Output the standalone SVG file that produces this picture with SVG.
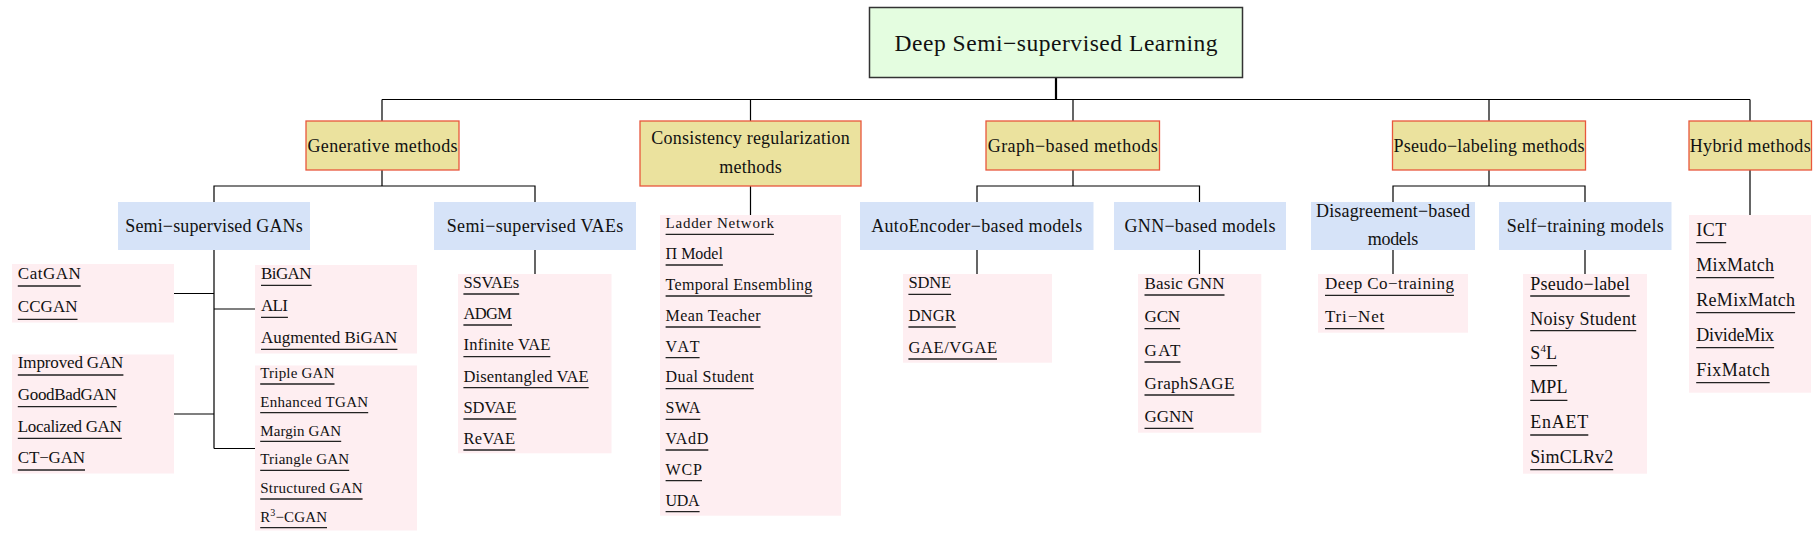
<svg xmlns="http://www.w3.org/2000/svg" width="1816" height="541" viewBox="0 0 1816 541">
<style>
text{font-family:"Liberation Serif","DejaVu Serif",serif;fill:#111}
.root{fill:#e4fde0;stroke:#333;stroke-width:1.5}
.l1{fill:#ebe29e;stroke:#e8573c;stroke-width:1.3}
.l2{fill:#d6e3f8}
.leaf{fill:#feeef1}
.t0{font-size:23.5px;text-anchor:middle}
.t1{font-size:18px;text-anchor:middle}
.ul{fill:none;stroke:#222;stroke-width:1.3}
.con{fill:none;stroke:#000;stroke-width:1.2}
.f15{font-size:15px}.f16{font-size:16px}.f165{font-size:16.5px}.f17{font-size:17px}.f18{font-size:18px}
</style>
<rect width="1816" height="541" fill="#fff"/>
<g id="connectors">
<path class="con" d="M1056 78V99.5" style="stroke-width:2.2"/>
<path class="con" d="M382 99.5H1750M382 99.5V121M750.5 99.5V121M1073 99.5V121M1489 99.5V121M1750 99.5V121"/>
<path class="con" d="M382 170V186M214 202V186H535V202M750.5 186V215M1073 170V186M977 202V186H1199.5V202M1489 170V186M1393 202V186H1585V202M1750 170V215"/>
<path class="con" d="M214 250V448.5M174 293.5H214M214 309H255M174 414H214M214 448.5H255M535 250V274M977 250V274M1199.5 250V274M1393 250V274M1585 250V274"/>
</g>
<g id="root"><rect class="root" x="869.5" y="7.5" width="373" height="70"/><text class="t0" x="1056" y="51" textLength="323">Deep Semi−supervised Learning</text></g>
<g id="generative"><rect class="l1" x="306" y="121" width="153" height="49"/><text class="t1" x="382.5" y="152" textLength="150">Generative methods</text></g>
<g id="consistency"><rect class="l1" x="640" y="121" width="221" height="65"/><text class="t1" x="750.5" y="144" textLength="198.5">Consistency regularization</text><text class="t1" x="750.5" y="173" textLength="62.5">methods</text></g>
<g id="graph"><rect class="l1" x="986" y="121" width="173.5" height="49"/><text class="t1" x="1072.7" y="152" textLength="170">Graph−based methods</text></g>
<g id="pseudo"><rect class="l1" x="1392.5" y="121" width="193" height="49"/><text class="t1" x="1489" y="152" textLength="191">Pseudo−labeling methods</text></g>
<g id="hybrid"><rect class="l1" x="1689" y="121" width="122.5" height="49"/><text class="t1" x="1750.2" y="152" textLength="121">Hybrid methods</text></g>
<g id="ssgans"><rect class="l2" x="118" y="202" width="192" height="48"/><text class="t1" x="214" y="232" textLength="177.5">Semi−supervised GANs</text></g>
<g id="ssvaes"><rect class="l2" x="434" y="202" width="202" height="48"/><text class="t1" x="535" y="232" textLength="176.5">Semi−supervised VAEs</text></g>
<g id="autoencoder"><rect class="l2" x="860" y="202" width="233.5" height="48"/><text class="t1" x="976.7" y="232" textLength="211">AutoEncoder−based models</text></g>
<g id="gnn"><rect class="l2" x="1114" y="202" width="172" height="48"/><text class="t1" x="1200" y="232" textLength="150.8">GNN−based models</text></g>
<g id="disagreement"><rect class="l2" x="1311" y="202" width="164" height="48"/><text class="t1" x="1393" y="217" textLength="154">Disagreement−based</text><text class="t1" x="1393" y="245" textLength="50.6">models</text></g>
<g id="selftraining"><rect class="l2" x="1499" y="202" width="172.5" height="48"/><text class="t1" x="1585.2" y="232" textLength="157">Self−training models</text></g>
<g id="leaf-catgan" class="f17"><rect class="leaf" x="12" y="264" width="162" height="58.5"/>
<text x="17.8" y="279" textLength="62.9">CatGAN</text><text x="17.8" y="312.3" textLength="59.7">CCGAN</text>
<path class="ul" d="M17.8 286h62.9M17.8 319.3h59.7"/></g>
<g id="leaf-bigan" class="f17"><rect class="leaf" x="255" y="265" width="162" height="88.5"/>
<text x="261" y="279" textLength="50.6">BiGAN</text><text x="261" y="311" textLength="26.9">ALI</text><text x="261" y="343.3" textLength="136.4">Augmented BiGAN</text>
<path class="ul" d="M261 285.3h50.6M261 317.3h26.9M261 349.3h136.4"/></g>
<g id="leaf-improved" class="f17"><rect class="leaf" x="12" y="354.5" width="162" height="119"/>
<text x="17.8" y="368.3" textLength="105.6">Improved GAN</text><text x="17.8" y="400" textLength="98.9">GoodBadGAN</text><text x="17.8" y="431.7" textLength="104">Localized GAN</text><text x="17.8" y="463.3" textLength="67.2">CT−GAN</text>
<path class="ul" d="M17.8 375h105.6M17.8 406.7h98.9M17.8 438.3h104M17.8 470h67.2"/></g>
<g id="leaf-triple" class="f15"><rect class="leaf" x="255" y="365.5" width="162" height="165"/>
<text x="260.2" y="378.3" textLength="74.3">Triple GAN</text><text x="260.2" y="407" textLength="108">Enhanced TGAN</text><text x="260.2" y="435.7" textLength="81">Margin GAN</text><text x="260.2" y="464.3" textLength="89">Triangle GAN</text><text x="260.2" y="493.3" textLength="102.4">Structured GAN</text><text x="260.2" y="522" textLength="66.8">R<tspan dy="-6" font-size="10">3</tspan><tspan dy="6">−CGAN</tspan></text>
<path class="ul" d="M260.2 384h74.3M260.2 412.7h108M260.2 441.3h81M260.2 470.3h89M260.2 499h102.4M260.2 527.7h66.8"/></g>
<g id="leaf-vaes" class="f165"><rect class="leaf" x="458" y="274" width="153.5" height="179.3"/>
<text x="463.4" y="287.7" textLength="55.8">SSVAEs</text><text x="463.4" y="319" textLength="48.6">ADGM</text><text x="463.4" y="350.3" textLength="87">Infinite VAE</text><text x="463.4" y="381.7" textLength="125.3">Disentangled VAE</text><text x="463.4" y="413" textLength="53">SDVAE</text><text x="463.4" y="444" textLength="51.8">ReVAE</text>
<path class="ul" d="M463.4 294h55.8M463.4 325h48.6M463.4 356.7h87M463.4 387.7h125.3M463.4 419h53M463.4 450h51.8"/></g>
<g id="leaf-consistency" class="f16"><rect class="leaf" x="660" y="215" width="181" height="300.7"/>
<text x="665.6" y="228.3" textLength="108.3" class="f15">Ladder Network</text><text x="665.6" y="259" textLength="57.3">Π Model</text><text x="665.6" y="290" textLength="146.7">Temporal Ensembling</text><text x="665.6" y="320.7" textLength="94.9">Mean Teacher</text><text x="665.6" y="351.7" textLength="34">VAT</text><text x="665.6" y="382.3" textLength="88.2">Dual Student</text><text x="665.6" y="413.3" textLength="34.8">SWA</text><text x="665.6" y="444" textLength="42.7">VAdD</text><text x="665.6" y="474.7" textLength="36.4">WCP</text><text x="665.6" y="505.7" textLength="34">UDA</text>
<path class="ul" d="M665.6 234.3h108.3M665.6 265h57.3M665.6 296h146.7M665.6 327h94.9M665.6 357.7h34M665.6 388.7h88.2M665.6 419.3h34.8M665.6 450h42.7M665.6 480.7h36.4M665.6 511.7h34"/></g>
<g id="leaf-autoencoder" class="f165"><rect class="leaf" x="903" y="274" width="149" height="88.7"/>
<text x="908.4" y="288.3" textLength="42.7">SDNE</text><text x="908.4" y="320.7" textLength="47.4">DNGR</text><text x="908.4" y="353.3" textLength="88.6">GAE/VGAE</text>
<path class="ul" d="M908.4 294.3h42.7M908.4 327h47.4M908.4 359h88.6"/></g>
<g id="leaf-gnn" class="f17"><rect class="leaf" x="1138" y="274" width="123.3" height="158.7"/>
<text x="1144.5" y="289.3" textLength="80">Basic GNN</text><text x="1144.5" y="322.3" textLength="35.6">GCN</text><text x="1144.5" y="355.7" textLength="36">GAT</text><text x="1144.5" y="388.7" textLength="89.9">GraphSAGE</text><text x="1144.5" y="422" textLength="49">GGNN</text>
<path class="ul" d="M1144.5 295h80M1144.5 328.7h35.6M1144.5 362h36M1144.5 395h89.9M1144.5 428.3h49"/></g>
<g id="leaf-disagreement" class="f17"><rect class="leaf" x="1318" y="274" width="150" height="58.7"/>
<text x="1325" y="289.3" textLength="128.9">Deep Co−training</text><text x="1325" y="322.3" textLength="59.3">Tri−Net</text>
<path class="ul" d="M1325 295.3h128.9M1325 328.7h59.3"/></g>
<g id="leaf-selftraining" class="f18"><rect class="leaf" x="1523" y="274" width="124" height="199.7"/>
<text x="1530.2" y="290" textLength="99.6">Pseudo−label</text><text x="1530.2" y="324.7" textLength="106">Noisy Student</text><text x="1530.2" y="359" textLength="26.9">S<tspan dy="-7" font-size="11">4</tspan><tspan dy="7">L</tspan></text><text x="1530.2" y="393.3" textLength="37.2">MPL</text><text x="1530.2" y="428.3" textLength="58.1">EnAET</text><text x="1530.2" y="462.7" textLength="83">SimCLRv2</text>
<path class="ul" d="M1530.2 296h99.6M1530.2 330.7h106M1530.2 365.7h26.9M1530.2 400.3h37.2M1530.2 435h58.1M1530.2 469.7h83"/></g>
<g id="leaf-hybrid" class="f18"><rect class="leaf" x="1689" y="215" width="122" height="177.7"/>
<text x="1696.2" y="236" textLength="30">ICT</text><text x="1696.2" y="270.7" textLength="77.9">MixMatch</text><text x="1696.2" y="305.7" textLength="98.9">ReMixMatch</text><text x="1696.2" y="340.7" textLength="77.9">DivideMix</text><text x="1696.2" y="375.7" textLength="73.5">FixMatch</text>
<path class="ul" d="M1696.2 242.7h30M1696.2 277.7h77.9M1696.2 312.7h98.9M1696.2 347.7h77.9M1696.2 382.7h73.5"/></g>
</svg>
